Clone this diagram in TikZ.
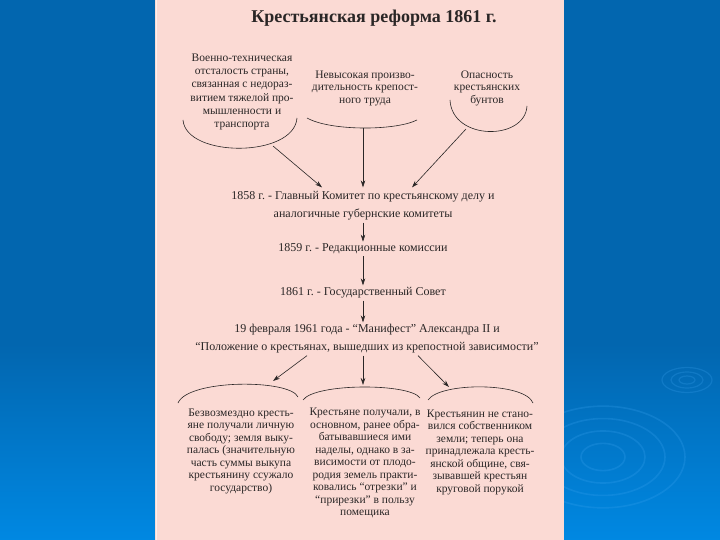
\documentclass[tikz,border=0pt]{standalone}
\usepackage{fontspec}
\setmainfont{Liberation Serif}
\usetikzlibrary{arrows.meta,positioning,calc}
\definecolor{slideblue}{HTML}{0266AF}
\definecolor{slidelight}{HTML}{0088E2}
\definecolor{ripple}{HTML}{3BA3F0}
\definecolor{pagepink}{HTML}{FBDAD4}
\definecolor{ink}{HTML}{2A2626}
\frenchspacing

\begin{document}
\begin{tikzpicture}[x=1pt,y=-1pt,
    txt/.style={align=center,font=\fontsize{11.5}{12.5}\selectfont,text=ink,inner sep=2pt},
    wide/.style={txt,font=\fontsize{12}{18}\selectfont},
    link/.style={-{Stealth[length=7pt,width=4.5pt]},semithick,draw=ink},
    curl/.style={semithick,draw=ink}]
    % slide background
    \useasboundingbox (0,0) rectangle (720,540);
    \fill[slideblue] (0,0) rectangle (720,345);
    \shade[top color=slideblue,bottom color=slidelight] (0,344) rectangle (720,540);
    \foreach \r in {22,42,62,82}
        \draw[ripple,opacity=.25,line width=1.6pt] (603,457) ellipse ({\r} and {\r*0.62});
    \foreach \r in {8,16,25}
        \draw[ripple,opacity=.25,line width=1.2pt] (687,380) ellipse ({\r} and {\r*0.5});
    \fill[pagepink] (155,0) rectangle (564,540);
    \draw[white,opacity=.6] (156,0) -- (156,540);

    % title
    \node[font=\bfseries\fontsize{18}{20}\selectfont,text=ink] (title) at (374,18) {Крестьянская реформа 1861 г.};

    % causes
    \node[txt,font=\fontsize{11.5}{13.2}\selectfont] (war) at (242,92)
        {Военно-техническая\\отсталость страны,\\связанная с недораз-\\витием тяжелой про-\\мышленности и\\транспорта};
    \node[txt] (labour) at (365,88) {Невысокая произво-\\дительность крепост-\\ного труда};
    \node[txt] (riot) at (487,88) {Опасность\\крестьянских\\бунтов};

    \draw[curl] (183,120) .. controls (186,158) and (294,158) .. (297,118);
    \draw[curl] (307,118) .. controls (330,131) and (395,131) .. (417,120);
    \draw[curl] (450,100) .. controls (452,141) and (525,141) .. (527,106);
    \coordinate (warEnd) at (273,146);
    \coordinate (labourEnd) at (363,128);
    \coordinate (riotEnd) at (466,129);

    % committees
    \node[wide] (comm) at (363,206) {1858 г. - Главный Комитет по крестьянскому делу и\\аналогичные губернские комитеты};
    \node[wide] (edit) at (363,249) {1859 г. - Редакционные комиссии};
    \node[wide] (council) at (363,293) {1861 г. - Государственный Совет};
    \node[wide] (manifest) at (367,339) {19 февраля 1961 года - ``Манифест'' Александра II и\\``Положение о крестьянах, вышедших из крепостной зависимости''};

    \draw[link] (warEnd) -- ([xshift=-41pt,yshift=2pt]comm.north);
    \draw[link] (labourEnd) -- ([yshift=2pt]comm.north);
    \draw[link] (riotEnd) -- ([xshift=49pt,yshift=2pt]comm.north);
    \draw[link] (comm.south) -- (edit.north);
    \draw[link] (edit.south) -- (council.north);
    \draw[link] (council.south) -- (council.south |- manifest.north);

    % consequences
    \draw[curl] (178,403) .. controls (188,379) and (290,379) .. (298,397);
    \draw[curl] (303,400) .. controls (315,383) and (410,383) .. (420,398);
    \draw[curl] (428,400) .. controls (440,382) and (525,382) .. (533,403);
    \coordinate (freedomTip) at (273,381);
    \coordinate (landTip) at (363,385);
    \coordinate (communeTip) at (449,387);

    \node[txt] (freedom) at (241,451) {Безвозмездно кресть-\\яне получали личную\\свободу; земля выку-\\палась (значительную\\часть суммы выкупа\\крестьянину ссужало\\государство)};
    \node[txt] (land) at (365,463) {Крестьяне получали, в\\основном, ранее обра-\\батывавшиеся ими\\наделы, однако в за-\\висимости от плодо-\\родия земель практи-\\ковались ``отрезки'' и\\``прирезки'' в пользу\\помещика};
    \node[txt] (commune) at (480,452) {Крестьянин не стано-\\вился собственником\\земли; теперь она\\принадлежала кресть-\\янской общине, свя-\\зывавшей крестьян\\круговой порукой};

    \draw[link] ([xshift=-60pt]manifest.south) -- (freedomTip);
    \draw[link] ([xshift=-4pt]manifest.south) -- (landTip);
    \draw[link] ([xshift=51pt]manifest.south) -- (communeTip);
\end{tikzpicture}
\end{document}
